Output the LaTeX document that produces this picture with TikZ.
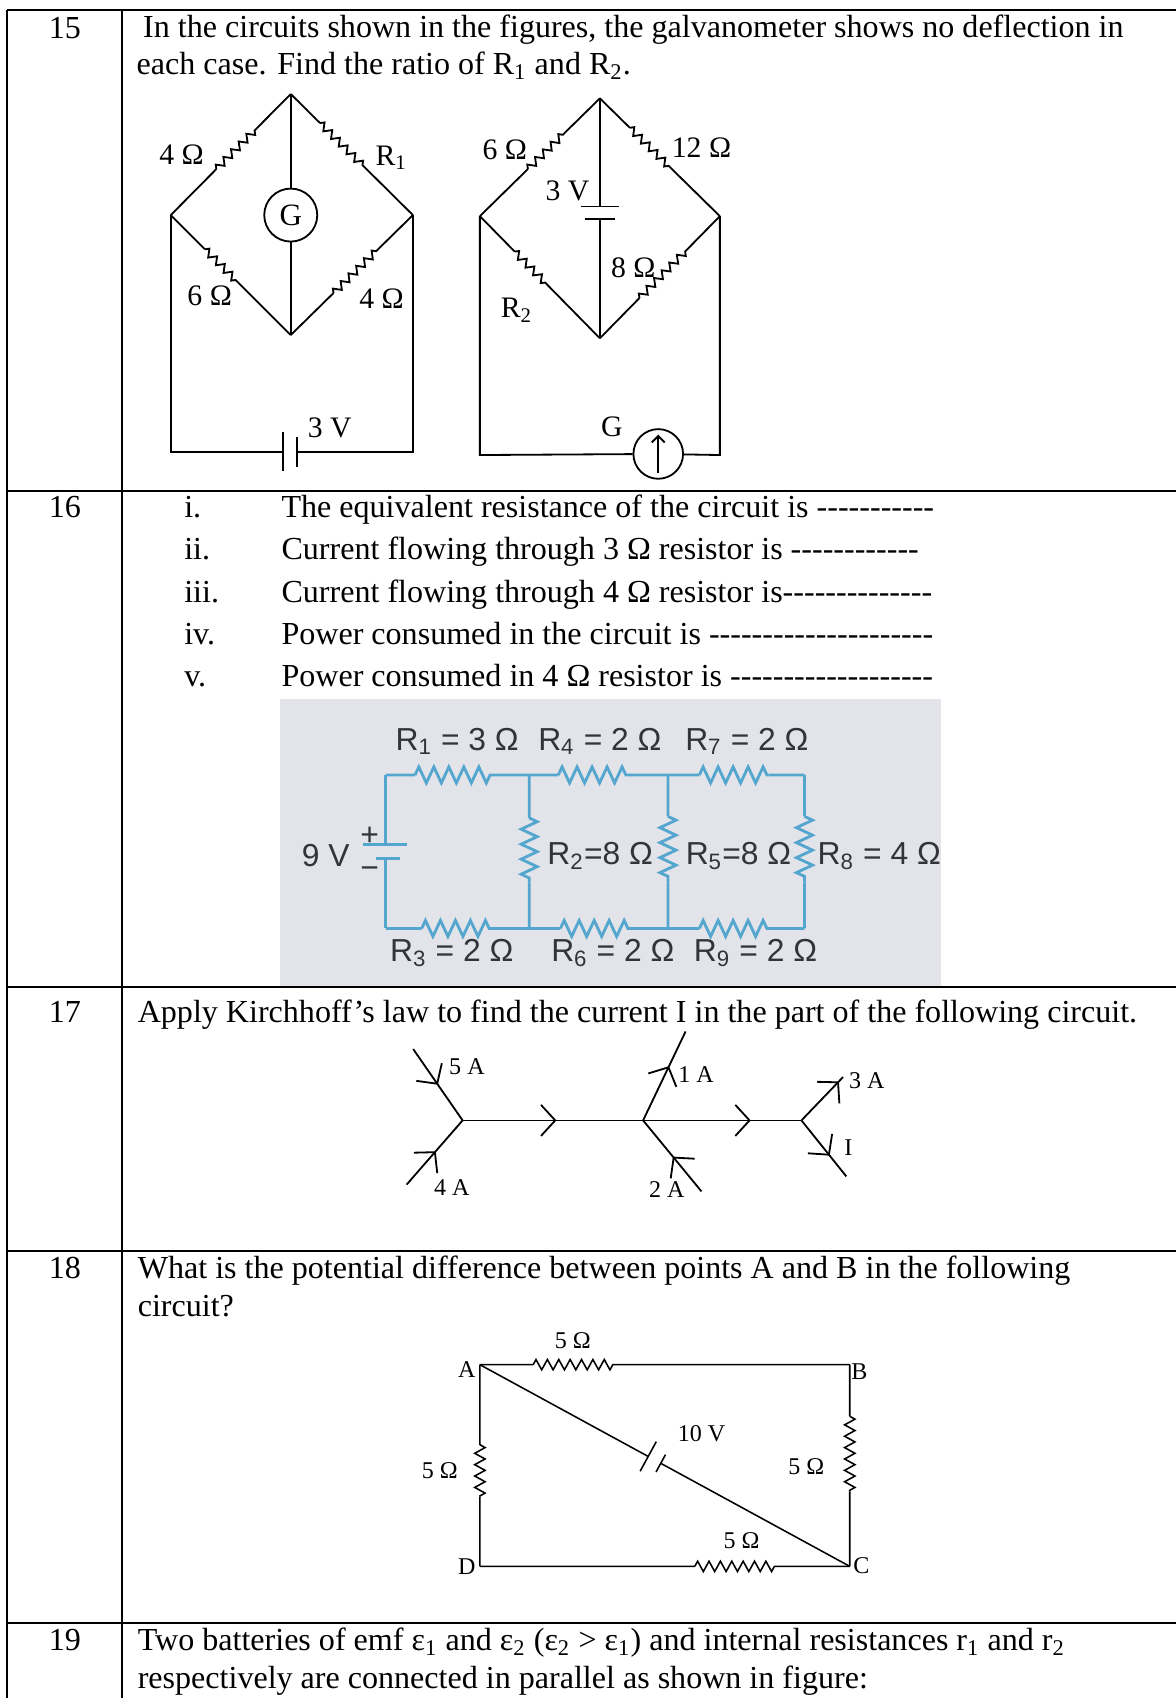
\documentclass[tikz,border=0pt]{standalone}
\usepackage{fontspec}
\setmainfont{Liberation Serif}[Ligatures=TeXOff]
\newfontfamily\photosans{Liberation Sans}
\usetikzlibrary{calc,arrows.meta,decorations.pathmorphing,decorations.markings}

\definecolor{photobg}{RGB}{226,228,233}
\definecolor{wireblue}{RGB}{84,166,206}
\definecolor{inkgray}{RGB}{50,52,58}

% resistor inside a wire: zigzag between the fractions #4 and #5 of (#2)--(#3)
\newcommand{\reswire}[5][zz]{%
  \draw (#2) -- ($(#2)!#4!(#3)$);
  \draw[#1] ($(#2)!#4!(#3)$) -- ($(#2)!#5!(#3)$);
  \draw ($(#2)!#5!(#3)$) -- (#3);}

\begin{document}
\begin{tikzpicture}[x=0.418pt,y=-0.418pt,
  txt/.style={font=\fontsize{12.4}{14}\selectfont,inner sep=0pt,anchor=base west},
  num/.style={font=\fontsize{12.4}{14}\selectfont,inner sep=0pt,anchor=base},
  tab/.style={line width=0.8pt},
  zz/.style={decorate,decoration={zigzag,amplitude=1.4pt,segment length=4.2pt}},
  zzb/.style={decorate,decoration={zigzag,amplitude=3.1pt,segment length=5.8pt}},
  zzc/.style={decorate,decoration={zigzag,amplitude=2pt,segment length=4.4pt}},
  lab/.style={font=\fontsize{11.5}{12}\selectfont,inner sep=0pt},
  plab/.style={font=\photosans\fontsize{12.3}{13}\selectfont,text=inkgray,inner sep=0pt},
  slab/.style={font=\fontsize{9.3}{10}\selectfont,inner sep=0pt},
  meter/.style={draw,circle,inner sep=0pt,font=\fontsize{12}{12}\selectfont},
  curr/.style={postaction={decorate},decoration={markings,
    mark=at position #1 with {\arrow{Straight Barb[length=5.5pt,width=12pt]}}}}
]
\useasboundingbox (0,0) rectangle (1088,1571);

% Table rules
\draw[tab] (6.5,9) -- (1088,9);
\foreach \ry in {454,913,1157,1502}
  \draw[tab] (6.5,\ry) -- (1088,\ry);
\draw[tab] (6.5,9) -- (6.5,1571);
\draw[tab] (113,9) -- (113,1571);

% Question numbers
\foreach \n/\ry in {15/36,16/479,17/946,18/1183,19/1527}
  \node[num] (n\n) at (60,\ry) {\n};

% Question 15
\node[txt] (q15a) at (132,35) {In the circuits shown in the figures, the galvanometer shows no deflection in};
\node[txt] (q15b) at (126,69) {each case. Find the ratio of R\textsubscript{1} and R\textsubscript{2}.};

% first bridge
\begin{scope}[line width=0.7pt]
\coordinate (lT) at (269,87);
\coordinate (lL) at (158,199);
\coordinate (lR) at (382,199);
\coordinate (lB) at (269,310);
\coordinate (lLd) at (158,418);
\coordinate (lRd) at (382,418);
\coordinate (lBa) at (262,418);
\coordinate (lBb) at (275,418);
\node[meter,minimum size=20.5pt] (lG) at (269,199) {G};
\reswire{lL}{lT}{0.38}{0.70}
\reswire{lT}{lR}{0.24}{0.59}
\reswire{lL}{lB}{0.285}{0.56}
\reswire{lB}{lR}{0.35}{0.71}
\draw (lT) -- (lG) -- (lB);
\draw (lL) -- (lLd) -- (lBa);
\draw (lBb) -- (lRd) -- (lR);
\draw ($(lBa)+(0,-18)$) -- ($(lBa)+(0,18)$);
\draw ($(lBb)+(0,-14)$) -- ($(lBb)+(0,14)$);
\end{scope}
\node[lab] (l4a) at (168,143) {4 Ω};
\node[lab,anchor=west] (lR1) at (347,146) {R\textsubscript{1}};
\node[lab] (l6) at (194,274) {6 Ω};
\node[lab] (l4b) at (353,276) {4 Ω};
\node[lab] (l3V) at (305,396) {3 V};

% second bridge
\begin{scope}[line width=0.7pt]
\coordinate (rT) at (555,91);
\coordinate (rL) at (444,200);
\coordinate (rR) at (666,200);
\coordinate (rB) at (555,313);
\coordinate (rLd) at (444,421);
\coordinate (rRd) at (666,421);
\coordinate (rBp) at (555,191);
\coordinate (rBn) at (555,203);
\node[meter,minimum size=19.2pt] (rG) at (609,420) {};
\reswire{rL}{rT}{0.40}{0.71}
\reswire{rT}{rR}{0.25}{0.58}
\reswire{rL}{rB}{0.29}{0.57}
\reswire{rB}{rR}{0.33}{0.72}
\draw (rT) -- (rBp);
\draw (rBn) -- (rB);
\draw ($(rBp)+(-17.6,0)$) -- ($(rBp)+(17.6,0)$);
\draw ($(rBn)+(-14,0)$) -- ($(rBn)+(14,0)$);
\draw (rL) -- (rLd) -- (rG) -- (rRd) -- (rR);
\draw[-{Straight Barb[length=2.5pt,width=5pt]}] ($(rG.south)+(0,-6)$) -- ($(rG.north)+(0,6)$);
\end{scope}
\node[lab] (r6) at (467,139) {6 Ω};
\node[lab] (r12) at (649,137) {12 Ω};
\node[lab] (r3V) at (525,177) {3 V};
\node[lab] (rR2) at (478,287) {R\textsubscript{2}};
\node[lab] (r8) at (586,248) {8 Ω};
\node[lab] (rGl) at (566,395) {G};

% Question 16
\foreach \k/\ry/\item in {
  i./479/{The equivalent resistance of the circuit is -----------},
  ii./518/{Current flowing through 3 Ω resistor is ------------},
  iii./557/{Current flowing through 4 Ω resistor is--------------},
  iv./596/{Power consumed in the circuit is ---------------------},
  v./635/{Power consumed in 4 Ω resistor is -------------------}}
{
  \node[txt] (k\ry) at (170,\ry) {\k};
  \node[txt] (t\ry) at (260,\ry) {\item};
}

% photographed network
\fill[photobg] (259,647) rectangle (871,912);
\begin{scope}[wireblue,line width=1.1pt]
\coordinate (pTL) at (357,717);
\coordinate (pT1) at (489.6,717);
\coordinate (pT2) at (618,717);
\coordinate (pTR) at (744.3,717);
\coordinate (pBL) at (357,859);
\coordinate (pB1) at (489.6,859);
\coordinate (pB2) at (618,859);
\coordinate (pBR) at (744.3,859);
\coordinate (pBp) at (357,781.6);
\coordinate (pBn) at (357,794);
\reswire[zzb]{pTL}{pT1}{0.204}{0.734}
\reswire[zzb]{pT1}{pT2}{0.21}{0.74}
\reswire[zzb]{pT2}{pTR}{0.23}{0.736}
\reswire[zzb]{pBL}{pB1}{0.25}{0.76}
\reswire[zzb]{pB1}{pB2}{0.225}{0.756}
\reswire[zzb]{pB2}{pBR}{0.23}{0.77}
\reswire[zzb]{pT1}{pB1}{0.28}{0.70}
\reswire[zzb]{pT2}{pB2}{0.27}{0.70}
\reswire[zzb]{pTR}{pBR}{0.27}{0.70}
\draw (pTL) -- (pBp);
\draw (pBn) -- (pBL);
\draw ($(pBp)+(-21,0)$) -- ($(pBp)+(20,0)$);
\draw ($(pBn)+(-9,0)$) -- ($(pBn)+(13,0)$);
\end{scope}
\node[plab] (pR1) at (423,686) {R\textsubscript{1} = 3 Ω};
\node[plab] (pR4) at (555,686) {R\textsubscript{4} = 2 Ω};
\node[plab] (pR7) at (691,686) {R\textsubscript{7} = 2 Ω};
\node[plab,anchor=east] (p9V) at (324,792) {9 V};
\node[plab] (pplus) at (342,774) {+};
\node[plab] (pminus) at (342,807) {−};
\node[plab,anchor=west] (pR2) at (506,792) {R\textsubscript{2}=8 Ω};
\node[plab,anchor=west] (pR5) at (634,792) {R\textsubscript{5}=8 Ω};
\node[plab,anchor=west] (pR8) at (756,792) {R\textsubscript{8} = 4 Ω};
\node[plab] (pR3) at (418,882) {R\textsubscript{3} = 2 Ω};
\node[plab] (pR6) at (567,882) {R\textsubscript{6} = 2 Ω};
\node[plab] (pR9) at (699,882) {R\textsubscript{9} = 2 Ω};

% Question 17
\node[txt] (q17) at (127,946) {Apply Kirchhoff’s law to find the current I in the part of the following circuit.};
\begin{scope}[line width=0.7pt]
\coordinate (J1) at (428,1036.6);
\coordinate (J2) at (595,1036.6);
\coordinate (J3) at (741.5,1036.6);
\coordinate (i5) at (382.3,970.6);
\coordinate (i4) at (376.2,1096);
\coordinate (o1) at (634.3,954.3);
\coordinate (i2) at (649,1102.3);
\coordinate (o3) at (780,996.5);
\coordinate (oI) at (783,1088.4);
\draw[curr=0.5] (i5) -- (J1);
\draw[curr=0.52] (i4) -- (J1);
\draw[curr=0.52] (J1) -- (J2);
\draw[curr=0.68] (J2) -- (J3);
\draw[curr=0.61] (J2) -- (o1);
\draw[curr=0.49] (i2) -- (J2);
\draw[curr=0.9] (J3) -- (o3);
\draw[curr=0.63] (J3) -- (oI);
\end{scope}
\node[slab] (c5) at (432,987) {5 A};
\node[slab] (c4) at (418,1099) {4 A};
\node[slab] (c1) at (644,994) {1 A};
\node[slab] (c2) at (617,1101) {2 A};
\node[slab] (c3) at (802,1000) {3 A};
\node[slab] (cI) at (785,1062) {I};

% Question 18
\node[txt] (q18a) at (127,1183) {What is the potential difference between points A and B in the following};
\node[txt] (q18b) at (127,1218) {circuit?};
\begin{scope}[line width=0.6pt]
\coordinate (A) at (444,1262.6);
\coordinate (B) at (786.2,1262.6);
\coordinate (C) at (786.2,1449.2);
\coordinate (D) at (444,1449.2);
\coordinate (Ep) at ($(A)!0.455!(C)$);
\coordinate (En) at ($(A)!0.489!(C)$);
\reswire[zzc]{A}{B}{0.144}{0.36}
\reswire[zzc]{A}{D}{0.397}{0.653}
\reswire[zzc]{B}{C}{0.256}{0.628}
\reswire[zzc]{D}{C}{0.581}{0.797}
\draw (A) -- (Ep);
\draw (En) -- (C);
\draw ($(Ep)!6.5pt!90:(C)$) -- ($(Ep)!6.5pt!-90:(C)$);
\draw ($(En)!3.8pt!90:(C)$) -- ($(En)!3.8pt!-90:(C)$);
\end{scope}
\node[slab] (lA) at (432,1267) {A};
\node[slab] (lB) at (795,1269) {B};
\node[slab] (lC) at (797,1449) {C};
\node[slab] (lD) at (432,1449) {D};
\node[slab] (s1) at (530,1240) {5 Ω};
\node[slab] (s2) at (407,1361) {5 Ω};
\node[slab] (s3) at (746,1357) {5 Ω};
\node[slab] (s4) at (686,1425) {5 Ω};
\node[slab] (s5) at (649,1326) {10 V};

% Question 19
\node[txt] (q19a) at (127,1527) {Two batteries of emf ε\textsubscript{1} and ε\textsubscript{2} (ε\textsubscript{2} > ε\textsubscript{1}) and internal resistances r\textsubscript{1} and r\textsubscript{2}};
\node[txt] (q19b) at (127,1562) {respectively are connected in parallel as shown in figure:};
\end{tikzpicture}
\end{document}
